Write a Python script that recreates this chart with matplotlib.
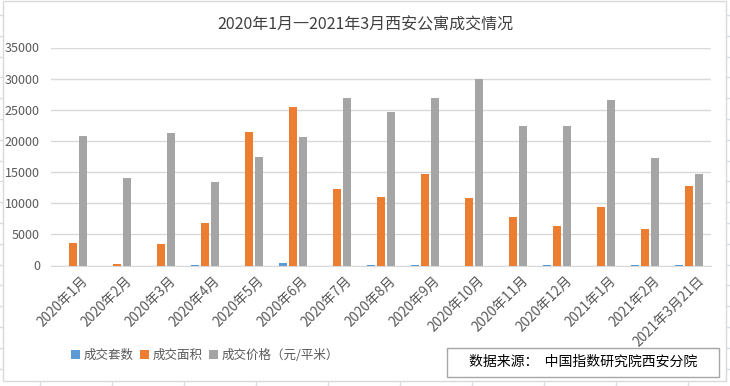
import numpy as np
import matplotlib
matplotlib.use('Agg')
import matplotlib.pyplot as plt
from matplotlib.patches import Rectangle
from matplotlib.lines import Line2D

plt.rcParams['font.family'] = ['Noto Sans CJK SC', 'DejaVu Sans']

# ==== dados ====
meses = ['2020年1月', '2020年2月', '2020年3月', '2020年4月', '2020年5月',
         '2020年6月', '2020年7月', '2020年8月', '2020年9月', '2020年10月',
         '2020年11月', '2020年12月', '2021年1月', '2021年2月', '2021年3月21日']
taoshu = [0, 0, 0, 160, 0, 380, 0, 160, 160, 0, 0, 160, 0, 160, 160]
mianji = [3630, 200, 3470, 6840, 21400, 25410, 12250, 10970, 14660, 10800,
          7750, 6310, 9360, 5830, 12730]
jiage = [20760, 14020, 21240, 13370, 17390, 20600, 26860, 24610, 26860, 29910,
         22360, 22360, 26540, 17230, 14660]
series = ['成交套数', '成交面积', '成交价格（元/平米）']
cores = ['#5B9BD5', '#ED7D31', '#A5A5A5']

W, H = 730, 386
fig = plt.figure(figsize=(W / 100, H / 100), dpi=100)

# moldura do gráfico e grade da planilha ao fundo
fig.add_artist(Rectangle((2.5 / W, 1 - 381 / H), 723.5 / W, 380 / H,
                         transform=fig.transFigure, fill=False,
                         edgecolor='#d9d9d9', lw=1))
for yy in np.arange(15, 386, 20.8):
    fig.add_artist(Line2D([0, 2 / W], [1 - yy / H] * 2, color='#d9dde6', lw=1))
    fig.add_artist(Line2D([727 / W, 1], [1 - yy / H] * 2, color='#d9dde6', lw=1))
for xx in np.arange(40, 730, 72):
    fig.add_artist(Line2D([xx / W] * 2, [0, 1 - 382 / H], color='#d9dde6', lw=1))

ax = fig.add_axes([51 / W, 1 - 265.5 / H, 660 / W, 218 / H])
x = np.arange(len(meses))
larg = 0.18
passo = 0.227
barras = []
for k, (vals, cor) in enumerate(zip([taoshu, mianji, jiage], cores)):
    b = ax.bar(x + (k - 1) * passo, vals, larg, color=cor, label=series[k],
               zorder=3, lw=0)
    barras.append(b)

ax.set_ylim(0, 35000)
ax.set_xlim(-0.5, len(meses) - 0.5)
ax.set_yticks(np.arange(0, 35001, 5000))
ax.grid(axis='y', color='#d9d9d9', lw=1, zorder=0)
for s in ['top', 'right', 'left']:
    ax.spines[s].set_visible(False)
ax.spines['bottom'].set_color('#d9d9d9')
ax.tick_params(length=0, colors='#595959', labelsize=9)
ax.tick_params(axis='y', pad=8)
ax.set_xticks(x)
ax.set_xticklabels(meses, rotation=45, ha='right', va='top',
                   rotation_mode='anchor', color='#595959', fontsize=9.8)
for lb in ax.get_xticklabels():
    lb.set_transform(lb.get_transform() + matplotlib.transforms.ScaledTranslation(0.08, -0.03, fig.dpi_scale_trans))

fig.text(365 / W, 1 - 25 / H, '2020年1月一2021年3月西安公寓成交情况',
         ha='center', va='center', fontsize=11.5, color='#404040')

fig.legend(handles=barras, loc='center', bbox_to_anchor=(205 / W, 1 - 355 / H),
           ncol=3, frameon=False, fontsize=9, handlelength=0.7, handleheight=0.7,
           handletextpad=0.3, columnspacing=0.5, labelcolor='#595959')

fig.add_artist(Rectangle((447 / W, 1 - 377 / H), 272 / W, 29 / H,
                         transform=fig.transFigure, fill=False,
                         edgecolor='#a6a6a6', lw=1))
fig.text(583 / W, 1 - 362 / H, '数据来源：  中国指数研究院西安分院',
         ha='center', va='center', fontsize=10, color='#000000')

fig.savefig('out.png', dpi=100)
